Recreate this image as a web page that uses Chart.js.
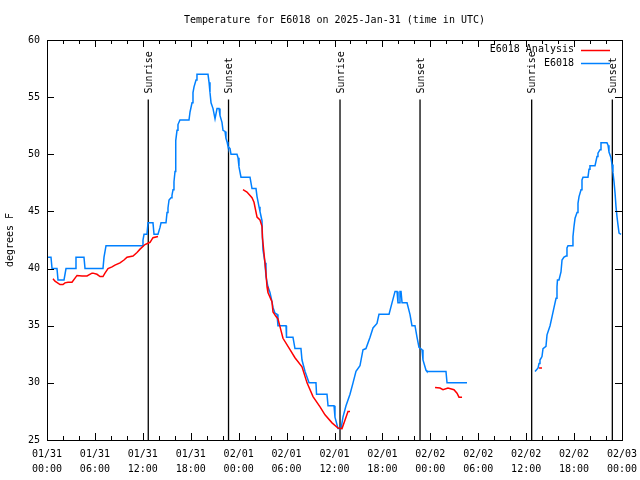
<!DOCTYPE html>
<html>
<head>
<meta charset="utf-8">
<script src="https://cdn.jsdelivr.net/npm/chart.js@4"></script>
<style>
  html, body { margin: 0; padding: 0; background: #fff; }
  #wrap { width: 640px; height: 480px; }
</style>
</head>
<body>
<div id="wrap"><canvas id="myChart" width="640" height="480"></canvas></div>
<script>
'use strict'

// hours since 01/31 00:00 UTC
const obsHours = [0.13, 0.50, 0.63, 1.25, 1.38, 2.13, 2.38, 3.51, 3.63, 4.63, 4.76, 7.01, 7.14, 7.39,
  11.90, 12.02, 12.15, 12.52, 12.65, 13.27, 13.40, 13.90, 14.15, 14.28, 14.90, 15.03, 15.15, 15.28,
  15.53, 15.65, 15.78, 15.90, 16.03, 16.09, 16.15, 16.28, 16.40, 16.65, 17.78, 17.91, 18.16, 18.28,
  18.41, 18.66, 18.78, 20.16, 20.29, 20.41, 20.54, 20.79, 20.91, 21.04, 21.29, 21.54, 21.66, 21.91,
  22.04, 22.29, 22.41, 22.54, 22.66, 22.92, 23.04, 23.79, 23.92, 24.04, 24.29, 25.42, 25.67, 26.17,
  26.30, 26.55, 26.67, 26.92, 26.98, 27.05, 27.30, 27.42, 27.67, 27.92, 28.17, 28.30, 28.55, 28.80,
  28.92, 29.93, 29.99, 30.80, 31.05, 31.80, 31.93, 32.31, 32.81, 33.68, 33.75, 35.06, 35.19, 35.94,
  36.06, 36.44, 36.82, 37.06, 37.44, 37.94, 38.32, 38.69, 39.19, 39.57, 39.94, 40.45, 40.82, 41.32,
  41.57, 42.83, 43.20, 43.58, 43.83, 43.95, 44.08, 44.20, 44.33, 44.46, 45.08, 45.45, 45.70, 46.08,
  46.33, 46.58, 46.96, 47.08, 47.46, 47.58, 49.96, 50.09, 52.59,
  57.00,
  61.11, 61.49, 61.61, 61.73, 61.98, 62.11, 62.48, 62.61, 62.99, 63.24, 63.49, 63.74, 63.86, 63.92,
  64.11, 64.36, 64.49, 64.74, 64.99, 65.11, 65.24, 65.74, 65.86, 65.99, 66.12, 66.37, 66.49, 66.62,
  66.87, 66.99, 67.12, 67.74, 67.87, 67.99, 68.62, 68.87, 68.99, 69.25, 69.37, 70.12, 70.25, 70.37,
  70.62, 70.75, 70.87, 71.00, 71.13, 71.25, 71.38, 71.50, 71.63, 71.88];
const obsTemps = [41, 41, 40, 40, 39, 39, 40, 40, 41, 41, 40, 40, 41, 42,
  42, 42.5, 43, 43, 44, 44, 43, 43, 43.6, 44, 44, 44.9, 45.3, 46,
  46.2, 46.4, 46.9, 47.6, 48.5, 49.9, 51.2, 52.1, 52.6, 53, 53, 53.7, 54.5, 55.4,
  55.9, 56.5, 57, 57, 56.3, 55.4, 54.5, 54, 54, 53.1, 54, 54, 53.4, 52.8,
  52.1, 52, 51.4, 51.1, 50.7, 50.5, 50, 50, 49.7, 48.9, 48, 48, 47, 47,
  46.3, 45.4, 45, 44.2, 42.7, 41.6, 40.5, 39.3, 38.4, 37.9, 37.1, 36.6, 36.1, 36,
  35, 35, 34, 34, 33, 33, 32, 31, 30, 30, 29, 29, 28, 28,
  27, 26, 26, 27, 28, 29, 30, 31, 31.5, 32.9, 33, 34, 34.8, 35.2,
  36, 36, 37, 38, 38, 37, 37, 38, 38, 37, 37, 36, 35, 35,
  34, 33.1, 32.9, 32, 31.1, 31, 31, 30, 30,
  null,
  31, 31.3, 31.7, 32, 32.3, 33, 33.2, 34.2, 35, 35.8, 36.6, 37.4, 38.4, 39,
  39, 39.7, 40.75, 41, 41.1, 41.8, 42, 42, 42.8, 43.7, 44.4, 44.9, 45.7, 46.3,
  46.9, 47.75, 48, 48, 48.7, 49, 49, 49.8, 50.1, 50.4, 51, 51, 50.8, 50.2,
  49.7, 49.1, 48.4, 47.6, 46.6, 45.4, 44.5, 43.8, 43.1, 43];

const anaHours = [0.75, 1.00, 1.63, 2.00, 2.25, 2.63, 3.13, 3.76, 4.38, 5.01, 5.63, 5.76, 6.26, 6.64,
  7.01, 7.26, 7.64, 8.14, 8.51, 9.14, 9.64, 10.02, 10.77, 11.27, 11.65, 12.27, 12.90, 13.27, 13.90,
  20.00,
  24.54, 25.04, 25.67, 25.92, 26.30, 26.67, 26.92, 26.98, 27.42, 27.55, 27.67, 28.17, 28.30, 28.68,
  28.92, 29.18, 29.55, 30.43, 31.05, 31.93, 32.56, 33.31, 34.19, 34.81, 35.69, 36.44, 36.94, 37.32,
  37.69, 37.94,
  45.00,
  48.59, 49.21, 49.59, 50.21, 50.96, 51.34, 51.59, 51.97,
  56.00,
  61.61, 61.98];
const anaTemps = [39.1, 38.9, 38.6, 38.6, 38.75, 38.8, 38.8, 39.4, 39.35, 39.35, 39.6, 39.6, 39.5, 39.3,
  39.3, 39.6, 40, 40.15, 40.3, 40.5, 40.75, 41, 41.1, 41.4, 41.7, 42.1, 42.3, 42.7, 42.8,
  null,
  46.9, 46.7, 46.2, 45.8, 44.5, 44.25, 43.7, 42.7, 39.6, 38.4, 37.9, 37.1, 36.2, 35.8,
  35.6, 34.9, 33.9, 32.9, 32.2, 31.4, 30, 28.8, 27.9, 27.2, 26.5, 26.05, 26, 26.75,
  27.5, 27.5,
  null,
  29.6, 29.55, 29.4, 29.55, 29.4, 29.1, 28.75, 28.75,
  null,
  31.3, 31.3];

const sunHours = [12.68, 22.73, 36.69, 46.71, 60.69, 70.79];
const sunNames = ['Sunrise', 'Sunset', 'Sunrise', 'Sunset', 'Sunrise', 'Sunset'];
const sunTop = 54.8;

const xTickLabels = [['01/31', '00:00'], ['01/31', '06:00'], ['01/31', '12:00'], ['01/31', '18:00'],
  ['02/01', '00:00'], ['02/01', '06:00'], ['02/01', '12:00'], ['02/01', '18:00'],
  ['02/02', '00:00'], ['02/02', '06:00'], ['02/02', '12:00'], ['02/02', '18:00'], ['02/03', '00:00']];

const chartTitle = 'Temperature for E6018 on 2025-Jan-31 (time in UTC)';
const yTitle = 'degrees F';
const seriesNames = ['E6018 Analysis', 'E6018'];
const RED = '#ff0000';
const BLUE = '#0080ff';
const FONT = '10px "DejaVu Sans Mono"';

const ctx = document.getElementById('myChart');

const toPoints = (xs, ys) => xs.map((h, i) => ({x: h, y: ys[i]}));

const sunSets = sunHours.map(h => ({
  data: [{x: h, y: 25}, {x: h, y: sunTop}],
  borderColor: '#000',
  borderWidth: 1.3,
  pointRadius: 0
}));

const frame = {
  id: 'frame',
  afterDatasetsDraw(chart){
    const {ctx, chartArea: a, scales: {x, y}} = chart;
    ctx.save();
    ctx.strokeStyle = '#000';
    ctx.lineWidth = 1;
    ctx.beginPath();
    for(let h = 0; h <= 72; h += 2){
      const px = Math.round(x.getPixelForValue(h)) + 0.5;
      const len = h % 6 === 0 ? 7 : 4;
      ctx.moveTo(px, a.bottom); ctx.lineTo(px, a.bottom - len);
      ctx.moveTo(px, a.top); ctx.lineTo(px, a.top + len);
    }
    for(let t = 25; t <= 60; t += 5){
      const py = Math.round(y.getPixelForValue(t)) + 0.5;
      ctx.moveTo(a.left, py); ctx.lineTo(a.left + 7, py);
      ctx.moveTo(a.right, py); ctx.lineTo(a.right - 7, py);
    }
    ctx.stroke();
    ctx.strokeRect(Math.round(a.left) + 0.5, Math.round(a.top) + 0.5,
      Math.round(a.right - a.left), Math.round(a.bottom - a.top));

    ctx.fillStyle = '#000';
    ctx.font = FONT;
    ctx.textBaseline = 'middle';
    sunHours.forEach((h, i) => {
      ctx.save();
      ctx.translate(x.getPixelForValue(h) + 1, y.getPixelForValue(sunTop) - 6);
      ctx.rotate(-Math.PI / 2);
      ctx.textAlign = 'left';
      ctx.fillText(sunNames[i], 0, 0);
      ctx.restore();
    });

    ctx.textAlign = 'center';
    ctx.fillText(chartTitle, (a.left + a.right) / 2, 20);

    ctx.save();
    ctx.translate(10, (a.top + a.bottom) / 2);
    ctx.rotate(-Math.PI / 2);
    ctx.fillText(yTitle, 0, 0);
    ctx.restore();

    // key, top right
    const keyColors = [RED, BLUE];
    seriesNames.forEach((name, i) => {
      const ky = 49.5 + i * 13.5;
      ctx.textAlign = 'right';
      ctx.fillText(name, 574, ky);
      ctx.strokeStyle = keyColors[i];
      ctx.lineWidth = 1.5;
      ctx.beginPath();
      ctx.moveTo(581, Math.round(ky) + 0.5);
      ctx.lineTo(610, Math.round(ky) + 0.5);
      ctx.stroke();
    });
    ctx.restore();
  }
};

new Chart(ctx, {
  type: 'line',
  data: {
    datasets: [
      {label: seriesNames[0], data: toPoints(anaHours, anaTemps), borderColor: RED,
        borderWidth: 1.5, pointRadius: 0, spanGaps: false},
      {label: seriesNames[1], data: toPoints(obsHours, obsTemps), borderColor: BLUE,
        borderWidth: 1.5, pointRadius: 0, spanGaps: false},
      ...sunSets
    ]
  },
  options: {
    responsive: false,
    animation: false,
    layout: {padding: {left: 0, top: 40, right: 18, bottom: 0}},
    plugins: {legend: {display: false}, tooltip: {enabled: false}},
    scales: {
      x: {
        type: 'linear',
        min: 0,
        max: 72,
        afterFit: s => { s.height = 40; s.paddingLeft = 0; s.paddingRight = 0; },
        grid: {display: false, drawTicks: false},
        border: {display: false},
        ticks: {
          stepSize: 6,
          padding: 7,
          maxRotation: 0,
          autoSkip: false,
          color: '#000',
          font: {family: 'DejaVu Sans Mono', size: 10, lineHeight: 1.5},
          callback: v => xTickLabels[Math.round(v / 6)]
        }
      },
      y: {
        min: 25,
        max: 60,
        afterFit: s => { s.width = 47; s.paddingTop = 0; s.paddingBottom = 0; },
        grid: {display: false, drawTicks: false},
        border: {display: false},
        ticks: {
          stepSize: 5,
          padding: 7,
          color: '#000',
          font: {family: 'DejaVu Sans Mono', size: 10}
        }
      }
    }
  },
  plugins: [frame]
});
</script>
</body>
</html>
